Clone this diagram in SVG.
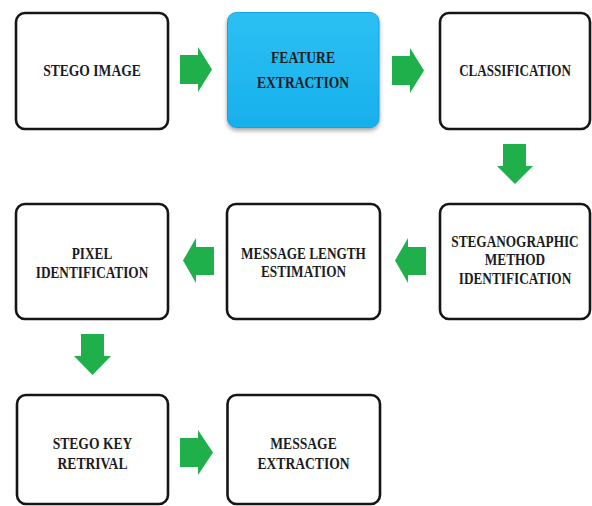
<svg xmlns="http://www.w3.org/2000/svg" width="592" height="506" viewBox="0 0 592 506">
  <defs>
    <linearGradient id="blue" x1="0" y1="0" x2="0" y2="1">
      <stop offset="0" stop-color="#2CC0F4"/>
      <stop offset="1" stop-color="#18B0EC"/>
    </linearGradient>
    <filter id="shadow" x="-10%" y="-10%" width="120%" height="125%">
      <feDropShadow dx="0" dy="2.5" stdDeviation="2" flood-color="#555" flood-opacity="0.55"/>
    </filter>
  </defs>
  <style>
    .box { fill: #ffffff; stroke: #151515; stroke-width: 2.6; }
    .blue { fill: url(#blue); stroke: #14A3DC; stroke-width: 1; }
    .t { font-family: "Liberation Serif", "Times New Roman", serif; font-weight: bold; font-size: 17px; fill: #1b1b22; text-anchor: middle; }
    .arrow { fill: #1FAF4B; stroke: none; }
  </style>
  <rect width="592" height="506" fill="#ffffff"/>

  <g id="connectors">
    <path class="arrow" d="M180,55 H198 V47 L212,69.5 L198,92 V84 H180 Z"/>
    <path class="arrow" d="M392,56 H410 V48 L424,70.5 L410,93 V85 H392 Z"/>
    <path class="arrow" d="M503,144 H526 V166 H533 L515,184 L497,166 H503 Z"/>
    <path class="arrow" d="M426,247 H408 V238 L395,260.5 L408,283 V275 H426 Z"/>
    <path class="arrow" d="M214,247 H196 V238 L183,260.5 L196,283 V275 H214 Z"/>
    <path class="arrow" d="M81,334 H104 V356 H111 L92.5,375 L74,356 H81 Z"/>
    <path class="arrow" d="M180,438 H198 V430 L213,452.5 L198,475 V467 H180 Z"/>
  </g>

  <g id="stego-image">
    <rect class="box" x="16" y="13" width="152" height="116" rx="9"/>
    <text class="t" transform="translate(92,76) scale(0.8,1)">STEGO IMAGE</text>
  </g>

  <g id="feature-extraction">
    <rect class="blue" x="227.5" y="12.5" width="151.5" height="115" rx="9" filter="url(#shadow)"/>
    <text class="t" transform="translate(303,63) scale(0.8,1)"><tspan x="0" y="0">FEATURE</tspan><tspan x="0" y="25">EXTRACTION</tspan></text>
  </g>

  <g id="classification">
    <rect class="box" x="440" y="13" width="150" height="116" rx="9"/>
    <text class="t" transform="translate(515,76) scale(0.77,1)">CLASSIFICATION</text>
  </g>

  <g id="steganographic-method-identification">
    <rect class="box" x="440" y="204" width="150" height="115" rx="9"/>
    <text class="t" transform="translate(515,247) scale(0.78,1)"><tspan x="0" y="0">STEGANOGRAPHIC</tspan><tspan x="0" y="18.5">METHOD</tspan><tspan x="0" y="37">IDENTIFICATION</tspan></text>
  </g>

  <g id="message-length-estimation">
    <rect class="box" x="227" y="204" width="153" height="115" rx="9"/>
    <text class="t" transform="translate(303.5,258.5) scale(0.78,1)"><tspan x="0" y="0">MESSAGE LENGTH</tspan><tspan x="0" y="18.5">ESTIMATION</tspan></text>
  </g>

  <g id="pixel-identification">
    <rect class="box" x="16" y="204" width="152" height="115" rx="9"/>
    <text class="t" transform="translate(92,259) scale(0.78,1)"><tspan x="0" y="0">PIXEL</tspan><tspan x="0" y="19">IDENTIFICATION</tspan></text>
  </g>

  <g id="stego-key-retrival">
    <rect class="box" x="17" y="395" width="151" height="109" rx="9"/>
    <text class="t" transform="translate(92.5,449) scale(0.8,1)"><tspan x="0" y="0">STEGO KEY</tspan><tspan x="0" y="20">RETRIVAL</tspan></text>
  </g>

  <g id="message-extraction">
    <rect class="box" x="227.5" y="395" width="152.5" height="109" rx="9"/>
    <text class="t" transform="translate(303.5,449) scale(0.8,1)"><tspan x="0" y="0">MESSAGE</tspan><tspan x="0" y="20">EXTRACTION</tspan></text>
  </g>
</svg>
